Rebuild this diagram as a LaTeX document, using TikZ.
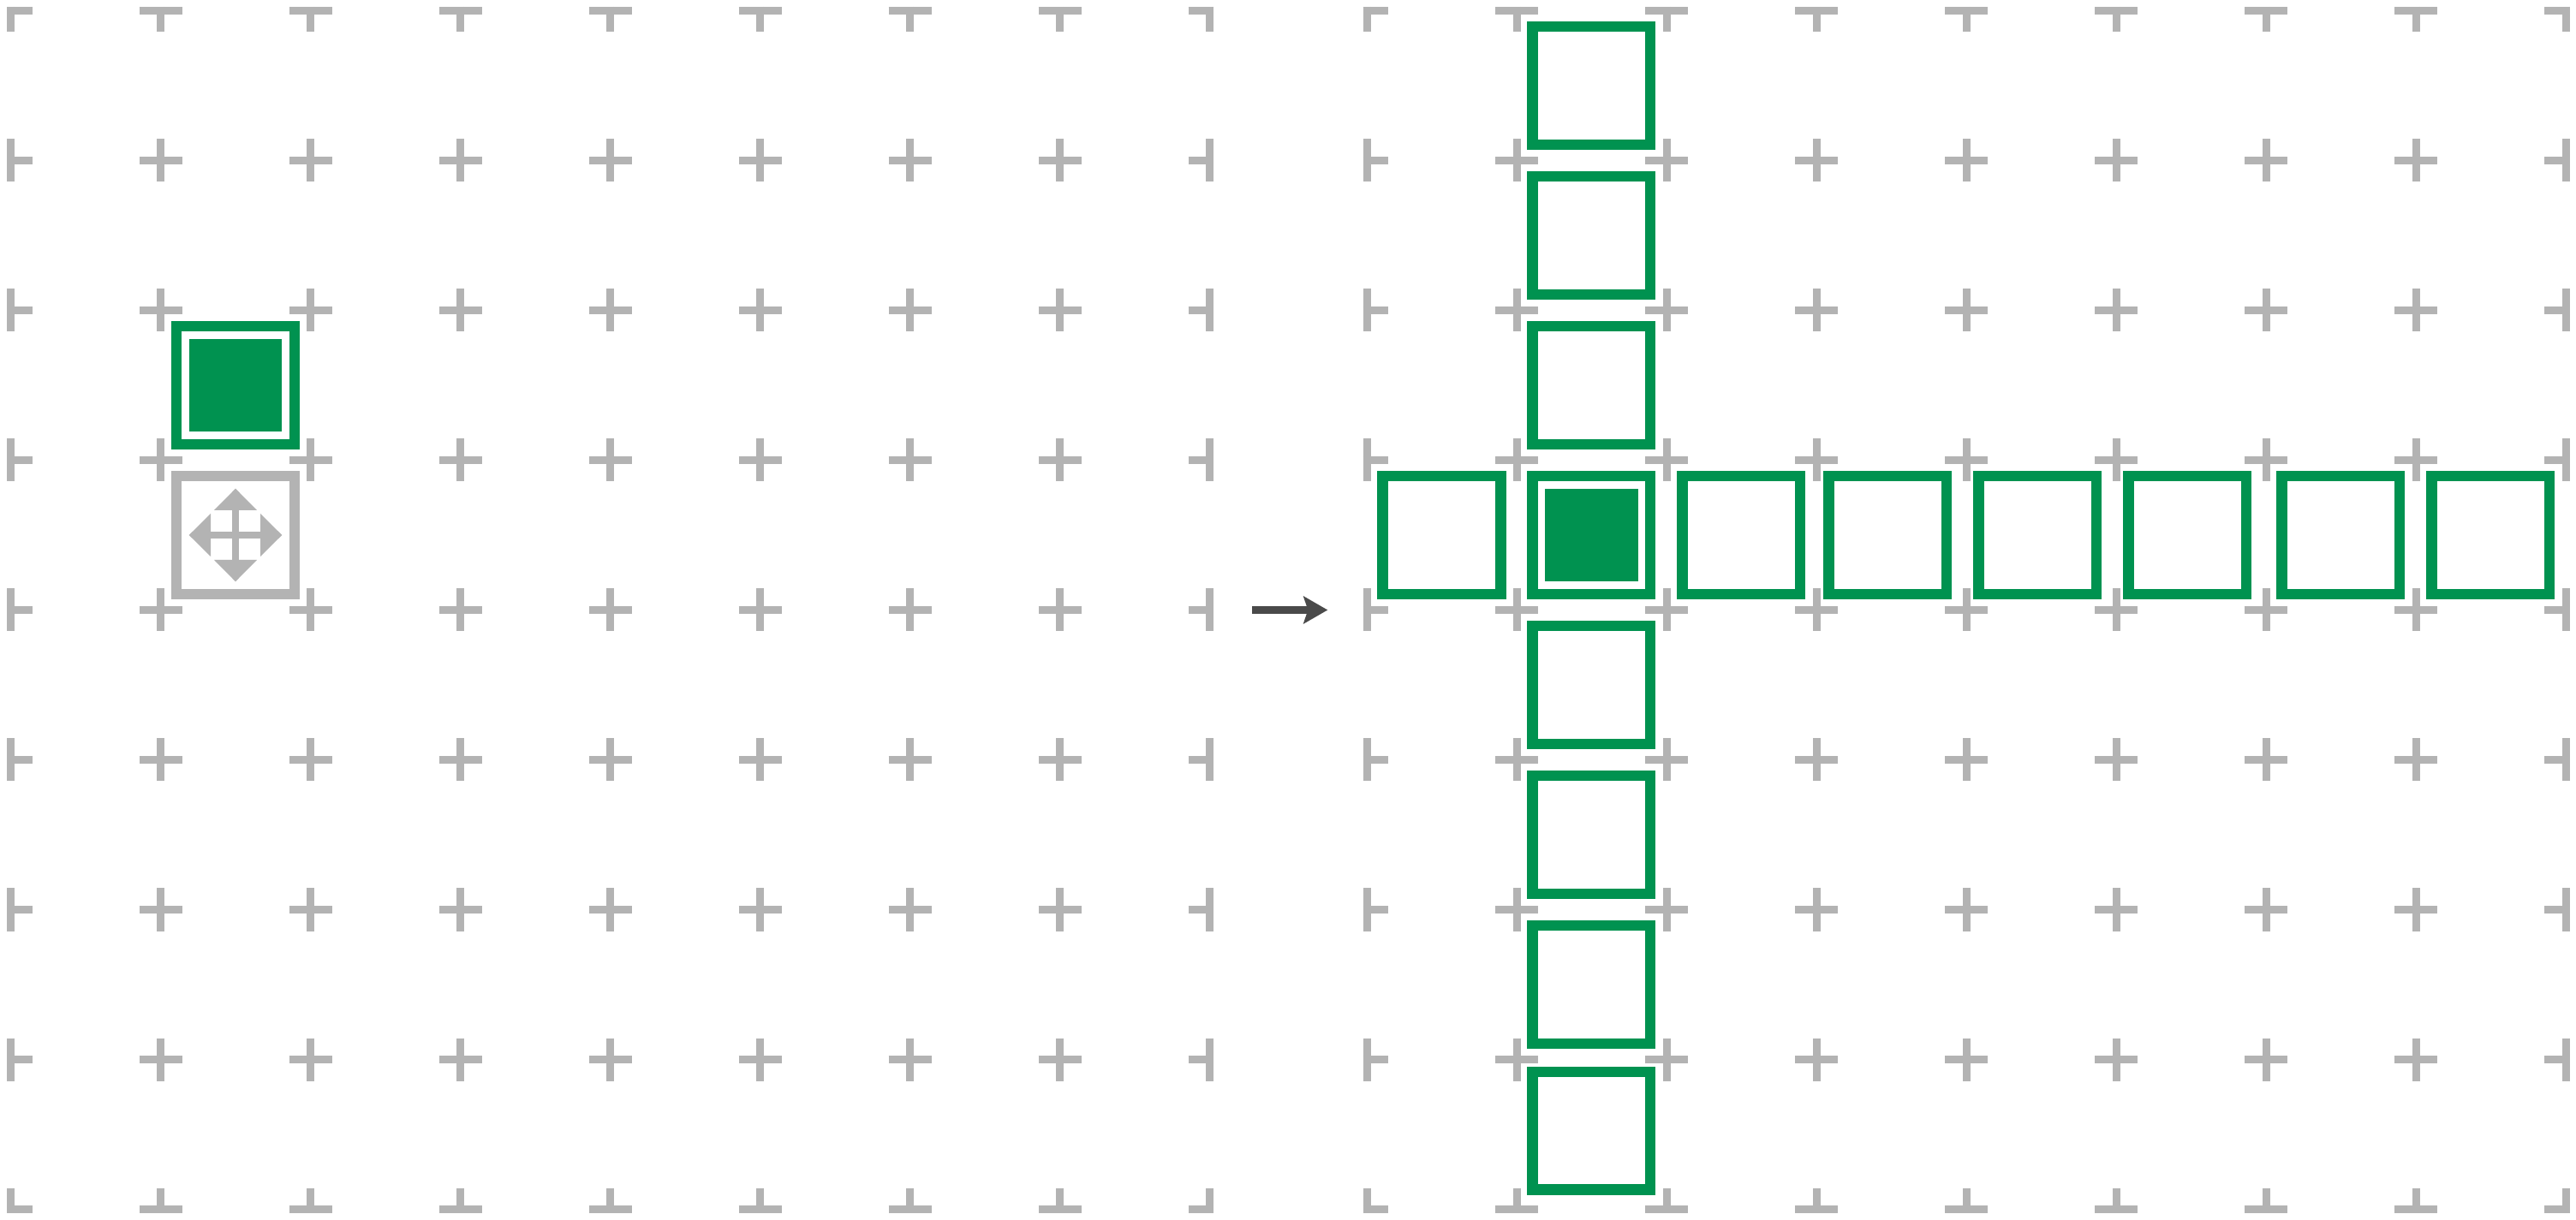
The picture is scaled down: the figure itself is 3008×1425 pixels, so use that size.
\documentclass[tikz,border=0pt]{standalone}
\usetikzlibrary{arrows.meta}
\definecolor{gridgrey}{RGB}{179,179,179}
\definecolor{cellgreen}{RGB}{0,146,80}
\definecolor{arrowgrey}{RGB}{74,74,74}
\tikzset{
  gridmark/.style={draw=gridgrey,line width=0.09cm},
  greencell/.style={draw=cellgreen,fill=white,line width=0.125cm,minimum size=1.375cm,inner sep=0pt,outer sep=0pt,shape=rectangle},
  greycell/.style={draw=gridgrey,fill=white,line width=0.125cm,minimum size=1.375cm,inner sep=0pt,outer sep=0pt,shape=rectangle},
  piece/.style={fill=cellgreen,draw=none,minimum size=1.086cm,inner sep=0pt,outer sep=0pt,shape=rectangle},
  icon/.style={fill=gridgrey,draw=none},
  movearrow/.style={draw=arrowgrey,line width=0.085cm,-{Stealth[length=0.28cm,width=0.316cm,inset=0.05cm,fill=arrowgrey]}}
}
\begin{document}
\begin{tikzpicture}[x=0.01cm,y=-0.01cm]
\useasboundingbox (0,0) rectangle (3008,1425);
\fill[white] (0,0) rectangle (3008,1425);
% grid marks of the two boards
\foreach \bx in {12.5,1596}{
  \foreach \i in {0,...,8}{
    \foreach \j in {0,...,8}{
      \pgfmathsetmacro\cx{\bx+175*\i}
      \pgfmathsetmacro\cy{12.5+175*\j}
      \pgfmathsetmacro\armL{\i==0?4.5:25}
      \pgfmathsetmacro\armR{\i==8?4.5:25}
      \pgfmathsetmacro\armT{\j==0?4.5:25}
      \pgfmathsetmacro\armB{\j==8?4.5:25}
      \draw[gridmark] (\cx-\armL,\cy) -- (\cx+\armR,\cy) (\cx,\cy-\armT) -- (\cx,\cy+\armB);
    }
  }
}
% left board
\node[greencell] (start) at (275,450) {};
\node[piece] (startpiece) at (275,450) {};
\node[greycell] (hint) at (275,625) {};
\begin{scope}[shift={(275,625)}]
  \fill[icon] (-4.2,-30) rectangle (4.2,30);
  \fill[icon] (-30,-4.2) rectangle (30,4.2);
  \fill[icon] (0,-54.3) -- (25,-29) -- (-25,-29) -- cycle;
  \fill[icon] (0,54.3) -- (25,29) -- (-25,29) -- cycle;
  \fill[icon] (-54.3,0) -- (-29,25) -- (-29,-25) -- cycle;
  \fill[icon] (54.3,0) -- (29,25) -- (29,-25) -- cycle;
\end{scope}
% arrow
\coordinate (arrowfrom) at (1462.3,712.5);
\coordinate (arrowto) at (1550.3,712.5);
\draw[movearrow] (arrowfrom) -- (arrowto);
% right board: column
\foreach \n/\y in {a/100,b/275,c/450,d/625,e/800,f/975,g/1150,h/1320.7}{
  \node[greencell] (col\n) at (1858.3,\y) {};
}
\node[piece] (endpiece) at (1858.3,625) {};
% right board: row
\foreach \n/\x in {a/1683.5,b/2033.3,c/2204.2,d/2379.2,e/2554.2,f/2733.3,g/2908.3}{
  \node[greencell] (row\n) at (\x,625) {};
}
\end{tikzpicture}
\end{document}
